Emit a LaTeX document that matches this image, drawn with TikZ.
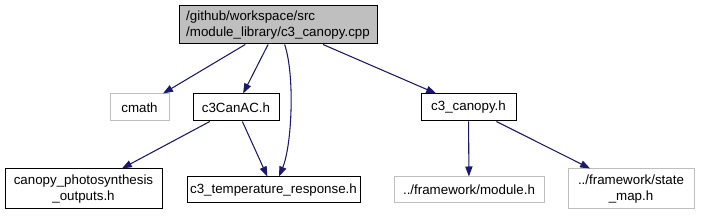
\documentclass[tikz,border=0pt]{standalone}
\usepackage{fontspec}
\setmainfont{Liberation Sans}
\usepackage{xcolor}
\usepackage{tikz}
\usetikzlibrary{arrows.meta}
\definecolor{edgeblue}{HTML}{191970}
\definecolor{extgray}{HTML}{BFBFBF}

\begin{document}
\begin{tikzpicture}[x=0.75pt, y=-0.75pt,
    font=\fontsize{10}{11.8}\selectfont,
    filebox/.style={draw=black, line width=0.75pt, inner sep=0pt, align=center},
    extbox/.style={filebox, draw=extgray},
    rootbox/.style={filebox, fill=extgray, align=left},
    dep/.style={edgeblue, line width=0.8pt, -{Triangle[length=7.5pt, width=5.4pt]}}]
  \useasboundingbox (0, 0) rectangle (701, 216);
  % Files
  \node[rootbox, minimum width=148.5pt, minimum height=28.5pt] (root) at (278, 25)
    {/github/workspace/src\\/module\_library/c3\_canopy.cpp};
  \node[extbox, minimum width=44.25pt, minimum height=20.25pt] (cmath) at (139.5, 107.5) {cmath};
  \node[filebox, minimum width=64.5pt, minimum height=20.25pt] (canac) at (236, 107.5) {c3CanAC.h};
  \node[filebox, minimum width=71.25pt, minimum height=20.25pt] (canopy) at (468.5, 107.5) {c3\_canopy.h};
  \node[filebox, minimum width=117.75pt, minimum height=30pt] (photo) at (83.5, 189)
    {canopy\_photosynthesis\\\_outputs.h};
  \node[filebox, minimum width=129.75pt, minimum height=19.5pt] (temp) at (273.5, 190)
    {c3\_temperature\_response.h};
  \node[extbox, minimum width=112.5pt, minimum height=19.5pt] (module) at (469, 190)
    {../framework/module.h};
  \node[extbox, minimum width=94.5pt, minimum height=30pt] (statemap) at (631, 189)
    {../framework/state\\\_map.h};
  % Includes
  \draw[dep] (root) -- (cmath);
  \draw[dep] (root) -- (canac);
  \draw[dep] (root) .. controls (295, 75) and (292, 145) .. (temp);
  \draw[dep] (root) -- (canopy);
  \draw[dep] (canac) -- (photo);
  \draw[dep] (canac) -- (temp);
  \draw[dep] (canopy) -- (module);
  \draw[dep] (canopy) -- (statemap);
\end{tikzpicture}
\end{document}
